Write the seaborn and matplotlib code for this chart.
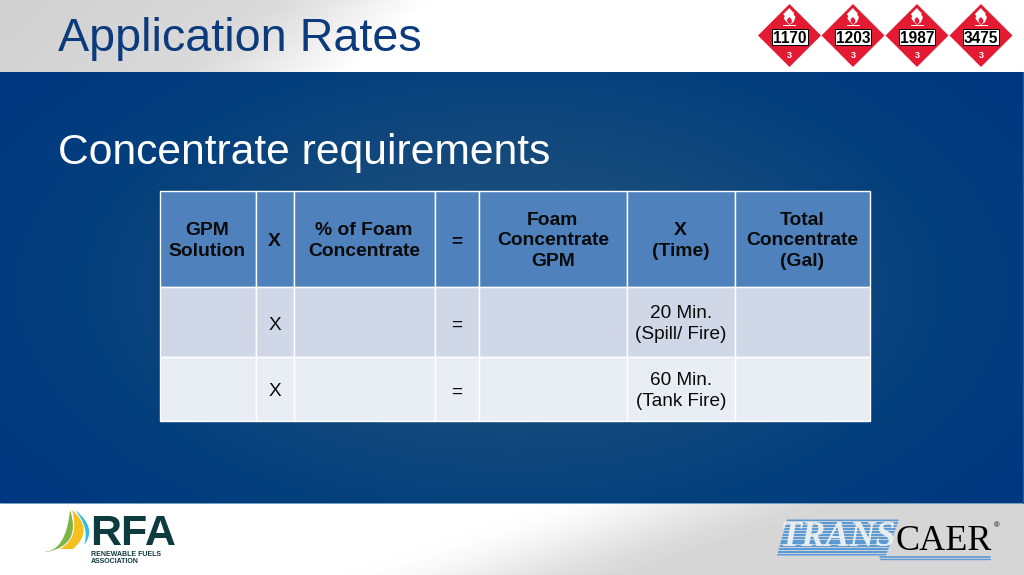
import numpy as np
import seaborn as sns
import matplotlib
matplotlib.use("Agg")
import matplotlib.pyplot as plt
from matplotlib.patches import Polygon, PathPatch, Rectangle
from matplotlib.path import Path
from matplotlib.transforms import Affine2D

title = "Application Rates"
subtitle = "Concentrate requirements"
header = ["GPM\nSolution", "X", "% of Foam\nConcentrate", "=", "Foam\nConcentrate\nGPM", "X\n(Time)", "Total\nConcentrate\n(Gal)"]
row_spill = ["", "X", "", "=", "", "20 Min.\n(Spill/ Fire)", ""]
row_tank = ["", "X", "", "=", "", "60 Min.\n(Tank Fire)", ""]
col_widths = [96, 38, 141, 44.5, 147.5, 108.5, 134.5]
row_heights = [96, 70, 64]
un_numbers = ["1170", "1203", "1987", "3475"]
slide_number = "13"

sns.set_theme(style="white")
plt.rcParams["font.family"] = ["Liberation Sans", "DejaVu Sans"]

W, H = 1024, 575
fig = plt.figure(figsize=(W / 100, H / 100), dpi=100)
ax = fig.add_axes([0, 0, 1, 1])
ax.axis("off")

# slide backgrounds, one array element per pixel
blue = sns.blend_palette(["#265780", "#174b7b", "#05407d", "#003780"], as_cmap=True)
by, bx = np.mgrid[72:503, 0:W]
rad = np.sqrt(((bx / W - 0.5) / 0.62) ** 2 + (((by - 71) / 432 - 0.5) / 0.8) ** 2)
ax.imshow(np.clip(rad, 0, 1), extent=(0, W, 503, 72), cmap=blue, vmin=0, vmax=1,
          aspect="auto", zorder=0, origin="upper", interpolation="nearest")
grey_top = sns.blend_palette(["#ffffff", "#d0d0d0"], as_cmap=True)
gy, gx = np.mgrid[0:72, 0:W]
d = np.clip(430 - 1.2 * gy - gx, 0, 430)
top = np.minimum(d / 150, 1) * 0.65 + d / 430 * 0.35
ax.imshow(top, extent=(0, W, 72, 0), cmap=grey_top, vmin=0, vmax=1, aspect="auto",
          zorder=0, origin="upper", interpolation="nearest")
grey_bot = sns.blend_palette(["#ffffff", "#eaeaea", "#d6d6d6"], as_cmap=True)
py, px = np.mgrid[503:575, 0:W]
s = np.clip((px - 330 - (575 - py) / 72 * 210) / 330, 0, 1)
ax.imshow(s * s * (3 - 2 * s), extent=(0, W, 575, 503), cmap=grey_bot, vmin=0, vmax=1, aspect="auto",
          zorder=0, origin="upper", interpolation="nearest")
ax.set_xlim(0, W)
ax.set_ylim(H, 0)
ax.plot([0, W], [503, 503], color="#6fa0c0", lw=.7, zorder=1)
ax.plot([1023, 1023], [72, 503], color="#2a5a9c", lw=1, zorder=1)

ax.text(58.5, 39, title, color="#0b3a7d", fontsize=33.7, va="center", ha="left")
ax.text(58.5, 153, subtitle, color="white", fontsize=30.7, va="center", ha="left")
ax.text(503, 531, slide_number, color="white", fontsize=7, va="center", ha="center", alpha=.8)

# table
tax = fig.add_axes([159.5 / W, 1 - 421 / H, 710.5 / W, 230 / H])
tax.axis("off")
rows = [header, row_spill, row_tank]
tbl = tax.table(cellText=[[""] * len(header) for _ in rows],
                colWidths=[c / sum(col_widths) for c in col_widths],
                cellLoc="center", bbox=[0, 0, 1, 1])
fills = ["#4f81bd", "#d0d8e8", "#e9edf4"]
for (r, c), cell in tbl.get_celld().items():
    cell.set_height(row_heights[r] / sum(row_heights))
    cell.set_facecolor(fills[r])
    cell.set_edgecolor("white")
    cell.set_linewidth(1.0)
col_mid = 159.5 + np.cumsum(col_widths) - np.array(col_widths) / 2
row_mid = 191 + np.cumsum(row_heights) - np.array(row_heights) / 2
for r, labels in enumerate(rows):
    for c, label in enumerate(labels):
        if label:
            dy = 1 if "\n" not in label else -2
            tax.text(col_mid[c], row_mid[r] + dy, label, transform=ax.transData,
                     ha="center", va="center_baseline", color="#0a0a0a", linespacing=1.27,
                     fontsize=13.9 if r == 0 else 13.7,
                     fontweight="bold" if r == 0 else "normal", zorder=6)

# hazmat placards
flame = Path([(0, 9), (-4, 4), (-5, -1), (-3, -3), (-5.5, -6), (-2, -12), (0, -15), (1.5, -11), (4, -8), (3, -5), (5, -3), (5, 2), (3, 6), (0, 9)],
             [Path.MOVETO] + [Path.CURVE3, Path.CURVE3] * 6 + [Path.LINETO])
for cx, num in zip([789.5, 853, 917, 981], un_numbers):
    cy = 35.5
    ax.add_patch(Polygon([(cx, cy - 31.5), (cx + 31.5, cy), (cx, cy + 31.5), (cx - 31.5, cy)], fc="#e21a32", ec="none", zorder=3))
    ax.add_patch(PathPatch(flame.transformed(Affine2D().scale(1.15, .7).translate(cx, cy - 17)),
                           fc="white", ec="none", zorder=4))
    ax.add_patch(PathPatch(flame.transformed(Affine2D().scale(.5, .3).translate(cx, cy - 14)),
                           fc="#e21a32", ec="none", zorder=4))
    ax.add_patch(Rectangle((cx - 6.5, cy - 10.5), 13, 1.3, fc="white", ec="none", zorder=4))
    ax.add_patch(Rectangle((cx - 18, cy - 6.5), 36, 16, fc="white", ec="black", lw=.7, zorder=4))
    ax.text(cx, cy + 1.5, num, color="black", fontsize=11.2, fontweight="bold", ha="center", va="center_baseline", zorder=5)
    ax.text(cx, cy + 19.5, "3", color="white", fontsize=6.5, fontweight="bold", ha="center", va="center", zorder=5)

# RFA logo
C3, MV, LN = Path.CURVE3, Path.MOVETO, Path.LINETO
def blade(points, codes, color):
    ax.add_patch(PathPatch(Path(points, codes), fc=color, ec="none", zorder=3))
blade([(43, 552), (66, 552), (70, 510), (82, 545), (47, 552)], [MV, C3, C3, C3, C3], "#7db446")
blade([(72, 510), (80, 538), (60, 549), (73, 549), (95, 530), (72, 510)], [MV, C3, C3, LN, C3, C3], "#f4c01e")
blade([(75, 510), (98, 528), (84, 545), (90, 528), (75, 510)], [MV, C3, C3, C3, C3], "#35bde8")
ax.text(90.5, 545, "RFA", color="#0e3b40", fontsize=31, fontweight="bold", ha="left", va="baseline", zorder=4)
ax.text(91, 554, "RENEWABLE FUELS", color="#0e3b40", fontsize=5.0, fontweight="bold", ha="left", va="center")
ax.text(91, 561.5, "ASSOCIATION", color="#0e3b40", fontsize=5.0, fontweight="bold", ha="left", va="center")

# TRANSCAER logo
band = Polygon([(787, 519.5), (899, 519.5), (886, 555.5), (777, 555.5)], fc="none", ec="none", zorder=3)
ax.add_patch(band)
for y in np.arange(520.3, 556, 2.9):
    ln, = ax.plot([770, 905], [y, y], color="#5b9bd5", lw=1.5, zorder=3, solid_capstyle="butt")
    ln.set_clip_path(band)
ax.plot([880, 990], [557, 557], color="#5b9bd5", lw=1.2, zorder=3)
ax.plot([880, 990], [559, 559], color="#5b9bd5", lw=1.0, zorder=3)
ax.text(838, 538, "TRANS", color="#e8edf2", fontsize=26, family="Liberation Serif", style="italic",
        fontweight="bold", ha="center", va="center", zorder=4)
ax.text(944, 541, "CAER", color="black", fontsize=26, family="Liberation Serif", ha="center", va="center", zorder=4)
ax.text(997, 526, "®", color="black", fontsize=5.5, ha="center", va="center", zorder=4)

fig.savefig("out.png", dpi=100)
